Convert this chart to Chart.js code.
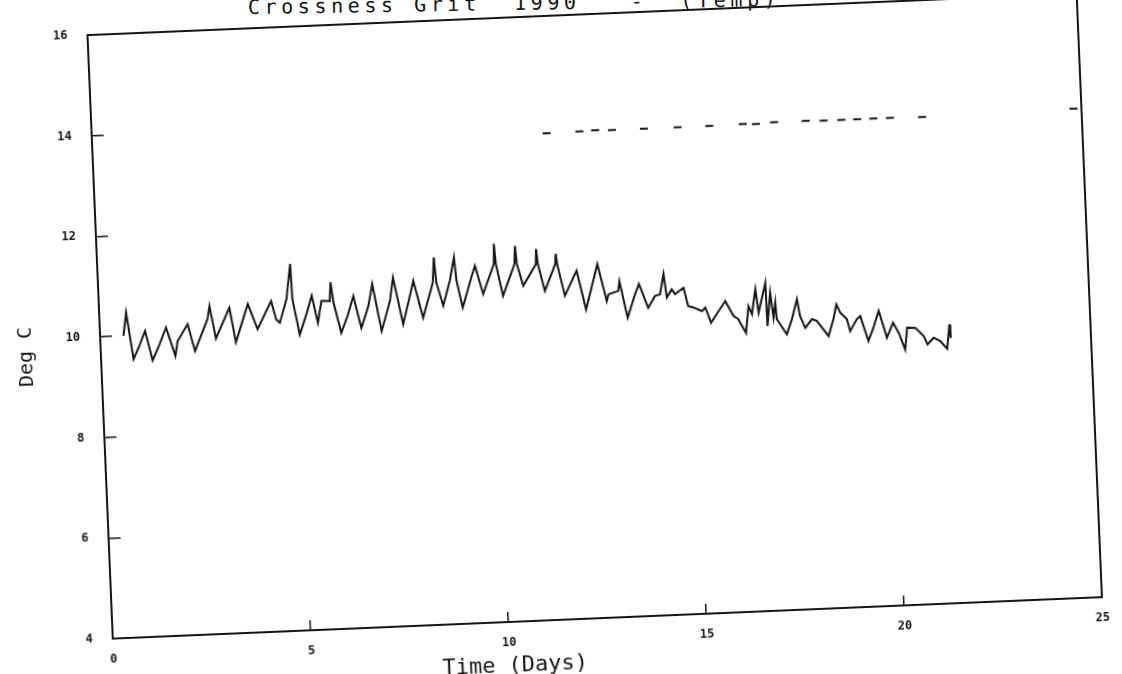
<!DOCTYPE html>
<html>
<head>
<meta charset="utf-8">
<script src="https://cdn.jsdelivr.net/npm/chart.js@4.4.0/dist/chart.umd.min.js"></script>
<style>
    html, body { margin: 0; padding: 0; background: #fff; overflow: hidden; width: 1122px; height: 674px; }
    #wrap {
        position: absolute; left: 0; top: 0; width: 1122px; height: 674px;
        transform-origin: 598px 323px; transform: rotate(-2.4deg);
    }
    #chart { position: absolute; left: 0; top: 0; }
    .label { position: absolute; color: #151515; font-family: "DejaVu Sans Mono", monospace; white-space: pre; }
    #title {
        left: 248px; top: -3px; font-size: 20px; line-height: 20px; letter-spacing: 4.6px;
        transform-origin: 0 100%; transform: rotate(-0.86deg);
    }
    #xtitle { left: 381px; top: 648px; width: 240px; text-align: center; font-size: 22px; line-height: 26px; }
    #ytitle {
        left: -16px; top: 321px; width: 80px; text-align: center; font-size: 20px; line-height: 24px;
        transform: rotate(-90deg);
    }
</style>
</head>
<body>
<div id="title" class="label">Crossness Grit  1990   -  (Temp)</div>
<div id="wrap">
    <canvas id="chart" width="1122" height="674"></canvas>
    <div id="xtitle" class="label">Time (Days)</div>
    <div id="ytitle" class="label">Deg C</div>
</div>
<script>
// --- Data ---
const days = [
    0.59, 0.68, 0.82, 0.98, 1.14, 1.30, 1.49, 1.67, 1.88, 1.95,
    2.22, 2.38, 2.73, 2.79, 2.92, 3.29, 3.42, 3.76, 3.98, 4.35,
    4.46, 4.55, 4.74, 4.87, 4.89, 5.04, 5.23, 5.38, 5.51, 5.62,
    5.83, 5.87, 5.92, 6.09, 6.28, 6.43, 6.60, 6.80, 6.92, 7.11,
    7.35, 7.45, 7.66, 7.86, 7.96, 8.17, 8.45, 8.50, 8.54, 8.69,
    8.88, 9.01, 9.05, 9.18, 9.44, 9.53, 9.71, 10.01, 10.03, 10.06,
    10.21, 10.53, 10.56, 10.59, 10.73, 11.07, 11.09, 11.12, 11.27, 11.56,
    11.58, 11.61, 11.77, 12.09, 12.29, 12.62, 12.82, 12.87, 13.12, 13.16,
    13.33, 13.54, 13.65, 13.86, 14.04, 14.17, 14.28, 14.34, 14.47, 14.55,
    14.77, 14.87, 15.00, 15.21, 15.30, 15.43, 15.58, 15.81, 16.00, 16.12,
    16.30, 16.39, 16.47, 16.58, 16.64, 16.84, 16.85, 16.95, 17.01, 17.07,
    17.09, 17.33, 17.47, 17.62, 17.68, 17.80, 17.98, 18.10, 18.38, 18.52,
    18.61, 18.70, 18.86, 18.93, 19.11, 19.20, 19.38, 19.52, 19.67, 19.85,
    20.02, 20.15, 20.30, 20.37, 20.58, 20.78, 20.87, 21.03, 21.19, 21.36,
    21.44, 21.46
];
const temps = [
    10.00, 10.46, 9.53, 9.79, 10.08, 9.49, 9.80, 10.13, 9.56, 9.85,
    10.18, 9.64, 10.27, 10.52, 9.87, 10.47, 9.78, 10.53, 10.02, 10.57,
    10.20, 10.13, 10.59, 11.29, 10.59, 9.88, 10.28, 10.64, 10.10, 10.53,
    10.52, 10.89, 10.50, 9.88, 10.24, 10.60, 9.96, 10.39, 10.82, 9.88,
    10.47, 10.93, 10.00, 10.56, 10.85, 10.11, 10.80, 11.30, 10.80, 10.33,
    10.82, 11.28, 10.82, 10.28, 10.90, 11.10, 10.53, 11.12, 11.52, 11.12,
    10.48, 11.10, 11.46, 11.10, 10.66, 11.08, 11.38, 11.08, 10.54, 11.07,
    11.27, 11.05, 10.43, 10.92, 10.14, 11.03, 10.29, 10.42, 10.48, 10.67,
    9.94, 10.40, 10.60, 10.12, 10.35, 10.38, 10.78, 10.31, 10.47, 10.37,
    10.49, 10.12, 10.09, 10.01, 10.08, 9.77, 9.94, 10.19, 9.89, 9.82,
    9.54, 10.07, 9.91, 10.40, 9.93, 10.52, 9.66, 10.32, 9.82, 10.12,
    9.79, 9.48, 9.77, 10.17, 9.83, 9.59, 9.76, 9.72, 9.41, 9.74,
    10.03, 9.86, 9.73, 9.49, 9.72, 9.78, 9.28, 9.54, 9.87, 9.33,
    9.62, 9.42, 9.08, 9.51, 9.50, 9.33, 9.16, 9.29, 9.22, 9.06,
    9.54, 9.27
];
// second, sparsely recorded trace drawn as dashes
const dashDays = [
    11.48, 12.31, 12.71, 13.13, 13.94, 14.79, 15.59, 16.44, 16.77, 17.23,
    18.03, 18.48, 18.93, 19.33, 19.74, 20.16, 20.97, 24.80
];
const dashTemps = [
    13.67, 13.68, 13.69, 13.68, 13.68, 13.68, 13.68, 13.69, 13.68, 13.70,
    13.70, 13.69, 13.69, 13.69, 13.69, 13.69, 13.68, 13.72
];
const xTicks = [0, 5, 10, 15, 20, 25];
const yTicks = [4, 6, 8, 10, 12, 14, 16];

const ink = '#151515';
const tickFont = { family: 'DejaVu Sans Mono', size: 12, weight: 'bold' };

// --- Frame round the plot area ---
const framePlugin = {
    id: 'frame',
    afterDraw(chart) {
        const { ctx, chartArea: a } = chart;
        ctx.save();
        ctx.strokeStyle = ink;
        ctx.lineWidth = 2;
        ctx.strokeRect(a.left, a.top, a.right - a.left, a.bottom - a.top);
        ctx.restore();
    }
};

// keep the plot box where it is on the canvas, whatever the label sizes
function noScalePadding(s) {
    s.paddingTop = 0;
    s.paddingBottom = 0;
    s.paddingLeft = 0;
    s.paddingRight = 0;
}

const ctx = document.getElementById('chart').getContext('2d');
new Chart(ctx, {
    type: 'line',
    data: {
        datasets: [
            {
                data: days.map((d, i) => ({ x: d, y: temps[i] })),
                borderColor: ink,
                borderWidth: 2,
                pointRadius: 0,
                tension: 0
            },
            {
                data: dashDays.map((d, i) => ({ x: d, y: dashTemps[i] })),
                showLine: false,
                pointStyle: 'line',
                pointRadius: 4,
                borderColor: ink,
                borderWidth: 2
            }
        ]
    },
    options: {
        responsive: false,
        animation: false,
        layout: { padding: { top: 14, right: 32, left: 0, bottom: 0 } },
        plugins: { legend: { display: false }, tooltip: { enabled: false } },
        scales: {
            x: {
                type: 'linear',
                min: xTicks[0],
                max: xTicks[xTicks.length - 1],
                afterBuildTicks: s => { s.ticks = xTicks.map(v => ({ value: v })); },
                afterFit: s => { s.height = 56; noScalePadding(s); },
                ticks: { font: tickFont, color: ink, padding: 24, autoSkip: false, maxRotation: 0 },
                grid: { drawOnChartArea: false, tickLength: -10, color: ink, lineWidth: 1.5 },
                border: { color: ink, width: 2 }
            },
            y: {
                min: yTicks[0],
                max: yTicks[yTicks.length - 1],
                afterBuildTicks: s => { s.ticks = yTicks.map(v => ({ value: v })); },
                afterFit: s => { s.width = 100; noScalePadding(s); },
                ticks: { font: tickFont, color: ink, padding: 32, autoSkip: false },
                grid: { drawOnChartArea: false, tickLength: -12, color: ink, lineWidth: 1.5 },
                border: { color: ink, width: 2 }
            }
        }
    },
    plugins: [framePlugin]
});
</script>
</body>
</html>
